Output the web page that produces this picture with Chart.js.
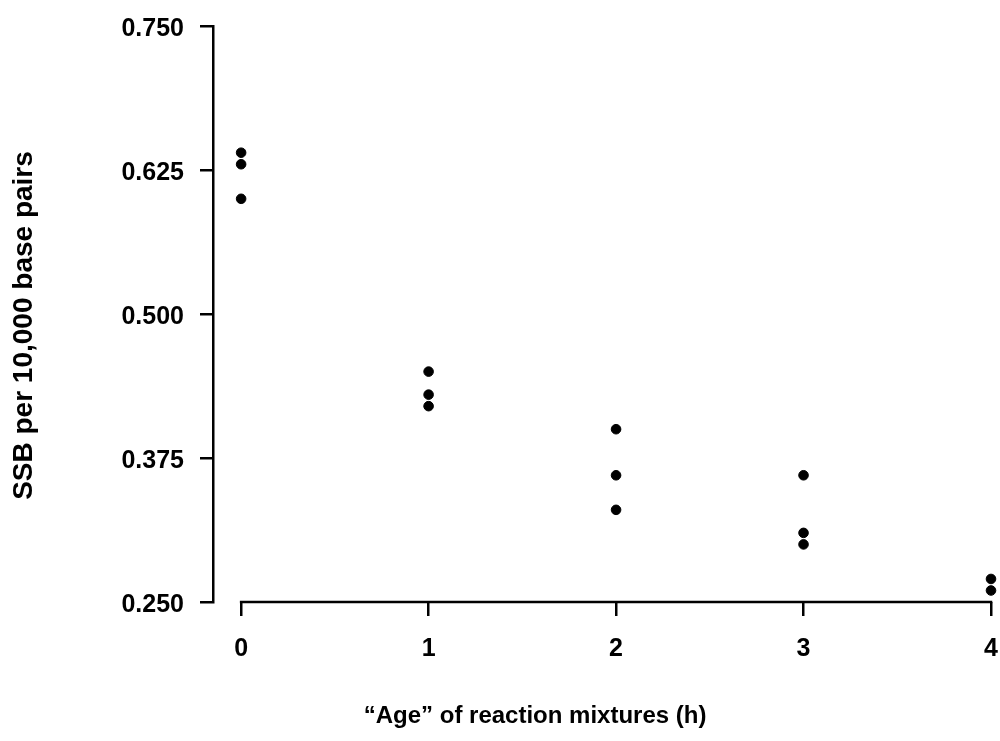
<!DOCTYPE html>
<html>
<head>
<meta charset="utf-8">
<script src="https://cdn.jsdelivr.net/npm/chart.js@4"></script>
<style>
	html, body { margin: 0; padding: 0; background: #fff; }
	#wrap { width: 1000px; height: 741px; }
</style>
</head>
<body>
<div id="wrap"><canvas id="ssb-chart"></canvas></div>
<script>
// Hours the mixtures were left standing, one entry per replicate
const ages = [0, 0, 0, 1, 1, 1, 2, 2, 2, 3, 3, 3, 4, 4];
// Single strand breaks per 10,000 base pairs
const ssbValues = [0.640, 0.630, 0.600, 0.450, 0.430, 0.420, 0.400, 0.360, 0.330, 0.360, 0.310, 0.300, 0.270, 0.260];

const xTicks = [0, 1, 2, 3, 4];
const yTicks = [0.250, 0.375, 0.500, 0.625, 0.750];

const xTitle = '\u201CAge\u201D of reaction mixtures (h)';
const yTitle = 'SSB per 10,000 base pairs';

const fontFamily = '"Liberation Sans", Arial, Helvetica, sans-serif';
const axisColor = '#000000';
const axisWidth = 2.5;

const points = ages.map((a, i) => ({ x: a, y: ssbValues[i] }));

// x axis line only spans the first to the last tick, detached from the y axis
const detachedAxisPlugin = {
	id: 'detachedAxis',
	afterDraw: (chart) => {
		const { ctx, chartArea: { bottom }, scales: { x } } = chart;
		ctx.save();
		ctx.beginPath();
		ctx.strokeStyle = axisColor;
		ctx.lineWidth = axisWidth;
		ctx.moveTo(x.getPixelForValue(xTicks[0]) - axisWidth / 2, bottom);
		ctx.lineTo(x.getPixelForValue(xTicks[xTicks.length - 1]) + axisWidth / 2, bottom);
		ctx.stroke();
		ctx.restore();
	}
};

// axis titles, placed a little off the scale centres
const axisTitlePlugin = {
	id: 'axisTitles',
	afterDraw: (chart) => {
		const { ctx, chartArea: { left, right, top, bottom } } = chart;
		ctx.save();
		ctx.fillStyle = '#000';
		ctx.textAlign = 'center';
		ctx.textBaseline = 'middle';

		ctx.font = 'bold 24px ' + fontFamily;
		ctx.fillText(xTitle, left + (right - left) * 0.414, bottom + 114);

		ctx.translate(left - 189, top + (bottom - top) * 0.52);
		ctx.rotate(-Math.PI / 2);
		ctx.font = 'bold 28px ' + fontFamily;
		ctx.fillText(yTitle, 0, 0);
		ctx.restore();
	}
};

new Chart(document.getElementById('ssb-chart'), {
	type: 'scatter',
	data: {
		datasets: [{
			data: points,
			backgroundColor: '#000000',
			borderColor: '#000000',
			pointRadius: 4.8,
			pointHoverRadius: 4.8,
			clip: false
		}]
	},
	options: {
		responsive: true,
		maintainAspectRatio: false,
		animation: false,
		events: [],
		layout: {
			padding: { top: 26, right: 9, bottom: 0, left: 0 }
		},
		plugins: {
			legend: { display: false },
			tooltip: { enabled: false }
		},
		scales: {
			x: {
				type: 'linear',
				min: -0.15,
				max: 4,
				afterBuildTicks: (scale) => {
					scale.ticks = xTicks.map(v => ({ value: v }));
				},
				afterFit: (scale) => {
					scale.height = 139;
					scale.paddingLeft = 0;
					scale.paddingRight = 0;
				},
				grid: {
					display: true,
					drawOnChartArea: false,
					drawTicks: true,
					tickLength: 14,
					color: axisColor,
					lineWidth: axisWidth
				},
				border: { display: false },
				ticks: {
					color: '#000',
					padding: 18,
					maxRotation: 0,
					font: { family: fontFamily, size: 25, weight: 'bold' },
					callback: (v) => String(v)
				}
			},
			y: {
				type: 'linear',
				min: 0.25,
				max: 0.75,
				afterBuildTicks: (scale) => {
					scale.ticks = yTicks.map(v => ({ value: v }));
				},
				afterFit: (scale) => {
					scale.width = 213;
					scale.paddingTop = 0;
					scale.paddingBottom = 0;
				},
				grid: {
					display: true,
					drawOnChartArea: false,
					drawTicks: true,
					tickLength: 13,
					color: axisColor,
					lineWidth: axisWidth
				},
				border: { display: true, color: axisColor, width: axisWidth },
				ticks: {
					color: '#000',
					padding: 16,
					labelOffset: 3,
					font: { family: fontFamily, size: 25, weight: 'bold' },
					callback: (v) => v.toFixed(3)
				}
			}
		}
	},
	plugins: [detachedAxisPlugin, axisTitlePlugin]
});
</script>
</body>
</html>
